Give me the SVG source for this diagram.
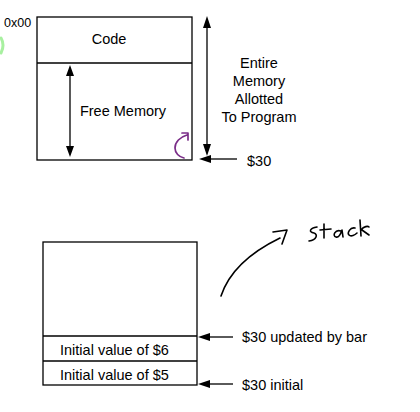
<svg xmlns="http://www.w3.org/2000/svg" width="420" height="412" viewBox="0 0 420 412">
<style>
.box{fill:none;stroke:#000;stroke-width:1.3}
.ln{stroke:#000;stroke-width:1.3;fill:none}
.hd{fill:#000}
text{font-family:"Liberation Sans",Arial,sans-serif;font-size:14.5px;fill:#000}
.ink{fill:none;stroke:#000;stroke-width:1.6;stroke-linecap:round;stroke-linejoin:round}
</style>
<rect width="420" height="412" fill="#fff"/>
<path d="M1,38 Q5,45 1,53" fill="none" stroke="#a8f0a0" stroke-width="3" stroke-linecap="round"/>
<g id="memory">
<rect class="box" x="37" y="17" width="155" height="143"/>
<line class="ln" x1="37" y1="63" x2="192" y2="63"/>
<text x="4" y="27" style="font-size:12.5px">0x00</text>
</g>
<g id="code"><text x="109" y="44" text-anchor="middle">Code</text></g>
<g id="free"><text x="123" y="116" text-anchor="middle">Free Memory</text></g>
<g id="entire">
<text x="259" y="68" text-anchor="middle">Entire</text>
<text x="259" y="86" text-anchor="middle">Memory</text>
<text x="259" y="104" text-anchor="middle">Allotted</text>
<text x="259" y="122" text-anchor="middle">To Program</text>
</g>
<g id="label30"><text x="247" y="166">$30</text></g>
<g id="stack">
<rect class="box" x="43" y="242" width="154" height="143"/>
<line class="ln" x1="43" y1="336" x2="197" y2="336"/>
<line class="ln" x1="43" y1="361" x2="197" y2="361"/>
<text x="60" y="355">Initial value of $6</text>
<text x="60" y="380">Initial value of $5</text>
</g>
<g id="labels2">
<text x="242" y="342">$30 updated by bar</text>
<text x="242" y="390">$30 initial</text>
</g>
<g id="connectors">
<line class="ln" x1="70" y1="75" x2="70" y2="147"/>
<path class="hd" d="M70,65 L66,76 L74,76 Z M70,157 L66,146 L74,146 Z"/>
<line class="ln" x1="207" y1="27" x2="207" y2="145"/>
<path class="hd" d="M207,16 L203,28 L211,28 Z M207,156 L203,144 L211,144 Z"/>
<line class="ln" x1="237" y1="159" x2="210" y2="159"/>
<path class="hd" d="M199,159 L211,155 L211,163 Z"/>
<line class="ln" x1="233" y1="337" x2="209" y2="337"/>
<path class="hd" d="M198,337 L210,333 L210,341 Z"/>
<line class="ln" x1="233" y1="384" x2="209" y2="384"/>
<path class="hd" d="M198,384 L210,380 L210,388 Z"/>
<path d="M187,135 C180,137 175,142 175,148 C175,153 179,157 184,158 M182,133 L188,133 L188,140" fill="none" stroke="#7a2d88" stroke-width="1.7" stroke-linecap="round" stroke-linejoin="round"/>
</g>
<g id="handwriting">
<path class="ink" d="M221,296 C228,275 245,255 280,238"/>
<path class="ink" d="M273,232 L287,230 L282,244"/>
<path class="ink" d="M317,227 C310,228 308,232 314,233 C318,234 317,240 309,241"/>
<path class="ink" d="M324,224 L324,238 M320,230 L331,229"/>
<path class="ink" d="M341,231 C335,229 332,236 336,237 C339,238 341,233 342,230 L343,237"/>
<path class="ink" d="M355,228 C350,227 347,233 349,235 C351,237 355,235 357,233"/>
<path class="ink" d="M360,220 L361,236 M361,230 C364,226 368,226 369,227 M362,230 L369,235"/>
</g>
</svg>
